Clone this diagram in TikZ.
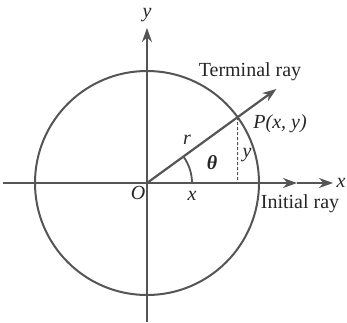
\documentclass[tikz,border=0pt]{standalone}
\usepackage{fontspec}
\setmainfont{Liberation Serif}
\usetikzlibrary{arrows.meta}
\definecolor{ink}{HTML}{555555}
\tikzset{
  axis/.style={draw=ink, line width=1.1pt},
  arr/.style={-{Stealth[length=7pt,width=5pt]}},
  lbl/.style={text=black!85, font=\fontsize{10}{12}\selectfont, inner sep=1pt},
}
\begin{document}
\begin{tikzpicture}[x=0.5pt,y=0.5pt]
\useasboundingbox (-147,-139) rectangle (200,183);
\begin{scope}
\clip (-147,-139) rectangle (200,183);
\coordinate (O) at (0,0);
\coordinate (P) at (36:112);
\coordinate (T) at (36:160);
\coordinate (Px) at (90.6,0);
\coordinate (xl) at (-144,0);
\coordinate (xi) at (150,0);
\coordinate (xr) at (186,0);
\coordinate (yb) at (0,-139);
\coordinate (yt) at (0,155);
\draw[ink, line width=1pt] (O) circle (112);
\draw[axis] (xl) -- (O);
\draw[axis, arr] (O) -- (xi);
\draw[axis, arr] (xi) -- (xr);
\draw[axis, arr] (yb) -- (yt);
\draw[axis, arr] (O) -- (T);
\draw[ink, line width=0.6pt, dash pattern=on 1.5pt off 1pt] (P) -- (Px);
\draw[ink, line width=0.9pt] (45,0) arc (0:36:45);
\node[lbl] (ylab) at (0,168) {\itshape y};
\node[lbl, anchor=east, inner sep=0.5pt] (xlab) at (200,0) {\itshape x};
\node[lbl] (term) at (103,111) {Terminal ray};
\node[lbl, anchor=west] (plab) at (104,59) {\itshape P(x, y)};
\node[lbl] (rlab) at (40,43) {\itshape r};
\node[lbl] (th) at (65,20) {\bfseries\itshape θ};
\node[lbl] (yv) at (100,28) {\itshape y};
\node[lbl] (olab) at (-9,-10) {\itshape O};
\node[lbl] (xv) at (45,-13) {\itshape x};
\node[lbl] (init) at (153,-21) {Initial ray};
\end{scope}
\end{tikzpicture}
\end{document}
